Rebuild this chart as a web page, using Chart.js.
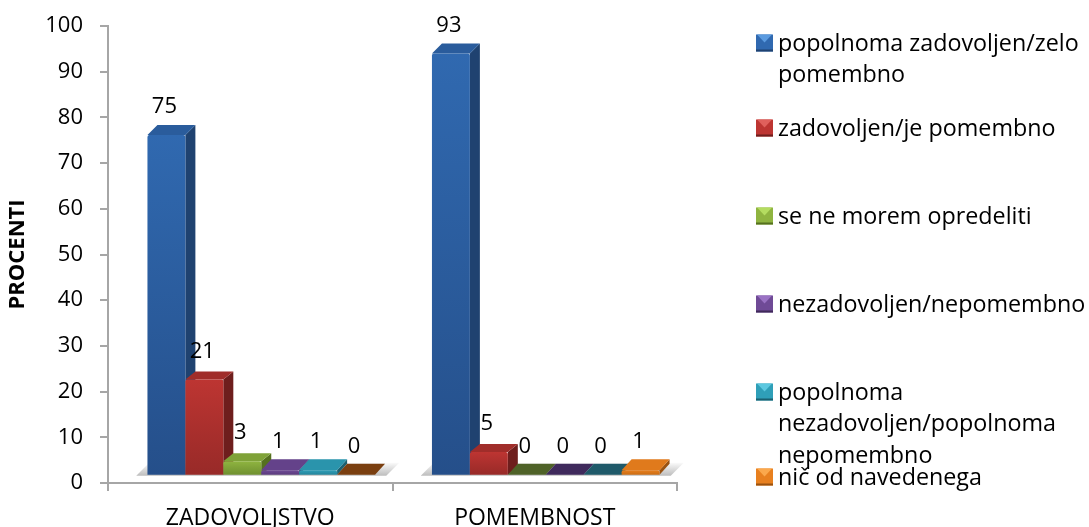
<!DOCTYPE html>
<html>
<head>
<meta charset="utf-8">
<script src="https://cdn.jsdelivr.net/npm/chart.js@4/dist/chart.umd.min.js"></script>
<style>
html, body { margin: 0; padding: 0; background: #fff; }
#wrap { position: absolute; left: 0; top: 0; width: 1089px; height: 527px; }
</style>
</head>
<body>
<div id="wrap"><canvas id="myChart" width="1089" height="527"></canvas></div>
<script>
const categories = ['ZADOVOLJSTVO', 'POMEMBNOST'];
const seriesNames = [
    ['popolnoma zadovoljen/zelo', 'pomembno'],
    ['zadovoljen/je pomembno'],
    ['se ne morem opredeliti'],
    ['nezadovoljen/nepomembno'],
    ['popolnoma', 'nezadovoljen/popolnoma', 'nepomembno'],
    ['nič od navedenega']
];
const popolnomaZadovoljen = [75, 93];
const zadovoljen = [21, 5];
const neMorem = [3, 0];
const nezadovoljen = [1, 0];
const popolnomaNezadovoljen = [1, 0];
const nicOdNavedenega = [0, 1];
const yTicks = [0, 10, 20, 30, 40, 50, 60, 70, 80, 90, 100];

const seriesValues = [popolnomaZadovoljen, zadovoljen, neMorem, nezadovoljen, popolnomaNezadovoljen, nicOdNavedenega];

// front light, front dark, side, top, top when the value is 0, legend highlight
const palette = [
    ['#3069b0', '#254f8a', '#1f4270', '#2a5c9c', '#24508a', '#5b9be0'],
    ['#bd3532', '#982a28', '#6e1e1d', '#a02d2a', '#7a2220', '#e0605c'],
    ['#8fb440', '#6f9030', '#55701f', '#7fa238', '#4f6228', '#b4dc60'],
    ['#6f4a96', '#5a3b7c', '#402a5a', '#64428a', '#3f2a5c', '#9a72c4'],
    ['#2f9fb8', '#24839a', '#1a6070', '#2a94ac', '#1f5a6a', '#5cc8e0'],
    ['#e8801f', '#c96c14', '#9a5210', '#e07a1c', '#7a3f10', '#fba84c']
];

const FONT = '"Open Sans", sans-serif';
const BAR_SHIFT = 11;
const GRAY = '#a6a6a6';

function faceGradient(ctx, i) {
    const yScale = ctx.chart.scales.yBars;
    if (!yScale || typeof ctx.raw !== 'number') return palette[i][0];
    const top = yScale.getPixelForValue(ctx.raw);
    const base = yScale.getPixelForValue(0);
    if (!isFinite(top) || !isFinite(base)) return palette[i][0];
    const g = ctx.chart.ctx.createLinearGradient(0, top, 0, Math.max(base, top + 1));
    g.addColorStop(0, palette[i][0]);
    g.addColorStop(1, palette[i][1]);
    return g;
}

function drawFloor(chart) {
    const c = chart.ctx;
    const base = chart.scales.yBars.getPixelForValue(0);
    const x = chart.scales.x;
    categories.forEach((cat, i) => {
        const mid = x.getPixelForValue(i) + BAR_SHIFT;
        const left = mid - 125, right = mid + 125;
        const g = c.createLinearGradient(0, base - 13, 0, base + 1);
        g.addColorStop(0, '#ffffff');
        g.addColorStop(1, '#bdbdbd');
        c.fillStyle = g;
        c.beginPath();
        c.moveTo(left, base + 1);
        c.lineTo(right, base + 1);
        c.lineTo(right + 13, base - 12);
        c.lineTo(left + 13, base - 12);
        c.closePath();
        c.fill();
    });
}

function drawDepth(chart, index) {
    const c = chart.ctx;
    const colors = palette[index];
    chart.getDatasetMeta(index).data.forEach((bar, i) => {
        const v = seriesValues[index][i];
        const dx = 10;
        const dy = v > 50 ? 10 : (v < 2 ? 11 : 8);
        const hw = bar.width / 2;
        const l = bar.x - hw, r = bar.x + hw, t = bar.y, b = bar.base;
        c.fillStyle = colors[2];
        c.beginPath();
        c.moveTo(r, t);
        c.lineTo(r + dx, t - dy);
        c.lineTo(r + dx, b - dy);
        c.lineTo(r, b);
        c.closePath();
        c.fill();
        c.fillStyle = v === 0 ? colors[4] : colors[3];
        c.beginPath();
        c.moveTo(l, t);
        c.lineTo(l + dx, t - dy);
        c.lineTo(r + dx, t - dy);
        c.lineTo(r, t);
        c.closePath();
        c.fill();
    });
}

const depthBars = {
    id: 'depthBars',
    // Chart.js paints the first dataset last, here red must overlap blue so paint in series order
    beforeDatasetsDraw(chart) {
        const c = chart.ctx;
        drawFloor(chart);
        c.save();
        c.translate(BAR_SHIFT, 0);
        seriesValues.forEach((vals, i) => {
            drawDepth(chart, i);
            chart.getDatasetMeta(i).controller.draw();
        });
        c.restore();

        // value labels above the bars
        c.save();
        c.font = '22px ' + FONT;
        c.fillStyle = '#000';
        c.textAlign = 'center';
        c.textBaseline = 'middle';
        chart.data.datasets.forEach((ds, di) => {
            chart.getDatasetMeta(di).data.forEach((bar, i) => {
                c.fillText(String(ds.data[i]), bar.x + BAR_SHIFT - 2, bar.y - 28);
            });
        });
        c.restore();
        return false;
    }
};

// legend rows: middle of each row's first line, in px
const legendRows = [43, 128, 216, 304, 392, 477];
const LEGEND_LINE = 31.7;

const sideLegend = {
    id: 'sideLegend',
    afterDraw(chart) {
        const c = chart.ctx;
        c.save();
        c.font = '23.3px ' + FONT;
        c.fillStyle = '#000';
        c.textAlign = 'left';
        c.textBaseline = 'middle';
        seriesNames.forEach((lines, i) => {
            const cy = legendRows[i];
            lines.forEach((line, j) => c.fillText(line, 778, cy + 1 + j * LEGEND_LINE));
        });
        seriesNames.forEach((lines, i) => {
            const cy = legendRows[i], x0 = 756, x1 = 773, y0 = cy - 8.5, y1 = cy + 8.5;
            const mx = (x0 + x1) / 2, col = palette[i];
            c.fillStyle = col[0];
            c.fillRect(x0, y0, x1 - x0, y1 - y0);
            // bevel: light top triangle, dark bottom edge
            c.fillStyle = col[5];
            c.beginPath();
            c.moveTo(x0 + 1, y0);
            c.lineTo(x1 - 1, y0);
            c.lineTo(mx, y0 + 8);
            c.closePath();
            c.fill();
            c.fillStyle = col[2];
            c.fillRect(x0, y1 - 2, x1 - x0, 2);
        });
        c.restore();
    }
};

const ctx = document.getElementById('myChart').getContext('2d');
new Chart(ctx, {
    type: 'bar',
    data: {
        labels: categories,
        datasets: seriesValues.map((vals, i) => ({
            label: seriesNames[i].join(' '),
            data: vals,
            yAxisID: 'yBars',
            backgroundColor: c => faceGradient(c, i),
            borderWidth: 0,
            borderRadius: 2,
            categoryPercentage: 0.8,
            barPercentage: 1
        }))
    },
    options: {
        responsive: false,
        animation: false,
        layout: { padding: { left: 0, right: 412, top: 26, bottom: 0 } },
        plugins: { legend: { display: false }, tooltip: { enabled: false }, title: { display: false } },
        scales: {
            x: {
                // keep the axis overflow out of the layout so the plot area stays where it is wanted
                afterFit: s => { s.height = 44; s.paddingLeft = 0; s.paddingRight = 0; s.paddingTop = 0; s.paddingBottom = 0; },
                grid: { drawOnChartArea: false, drawTicks: true, tickLength: 8, color: GRAY, lineWidth: 2 },
                border: { color: GRAY, width: 2 },
                ticks: { color: '#000', font: { family: FONT, size: 23 }, padding: 14, maxRotation: 0 }
            },
            y: {
                min: 0,
                max: 100,
                afterFit: s => { s.width = 108; s.paddingTop = 0; s.paddingBottom = 0; },
                afterBuildTicks: s => { s.ticks = yTicks.map(v => ({ value: v })); },
                grid: { drawOnChartArea: false, drawTicks: true, tickLength: 8, color: GRAY, lineWidth: 2 },
                border: { color: GRAY, width: 2 },
                ticks: { color: '#000', font: { family: FONT, size: 22 }, padding: 17 },
                title: { display: true, text: 'PROCENTI', color: '#000', font: { family: FONT, size: 22, weight: 'bold' }, padding: { top: 5, bottom: 0 } }
            },
            // bars stand on a floor slightly above the axis line
            yBars: { display: false, min: -1.82, max: 99.06 }
        }
    },
    plugins: [depthBars, sideLegend]
});
</script>
</body>
</html>
